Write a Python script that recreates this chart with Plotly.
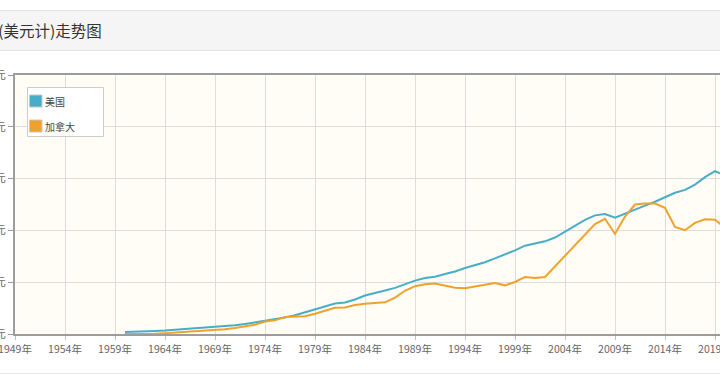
import plotly.graph_objects as go

# ---------------- data ----------------
years = list(range(1960, 2021))
usa = [3007, 3067, 3244, 3375, 3574, 3828, 4146, 4336, 4696, 5032,
       5234, 5609, 6094, 6726, 7226, 7801, 8592, 9453, 10565, 11674,
       12575, 13976, 14434, 15544, 17121, 18237, 19071, 20039, 21417, 22857,
       23889, 24342, 25419, 26387, 27695, 28691, 29968, 31459, 32854, 34515,
       36330, 37134, 38023, 39497, 41713, 44115, 46299, 48050, 48570, 47195,
       48651, 50066, 51784, 53291, 55124, 56763, 57867, 59915, 62805, 65095,
       63528]
canada = [2259, 2240, 2269, 2374, 2555, 2770, 3047, 3217, 3463, 3764,
          4122, 4520, 5089, 5838, 7033, 7511, 8809, 8919, 9124, 10044,
          11171, 12338, 12482, 13425, 13877, 14115, 14463, 16310, 18937, 20716,
          21448, 21768, 20880, 20121, 19935, 20614, 21227, 21902, 21028, 22315,
          24271, 23822, 24255, 28300, 32143, 36383, 40504, 44659, 46711, 40876,
          47562, 52224, 52670, 52635, 50956, 43596, 42316, 45129, 46549, 46374,
          43258]
series_names = ["美国", "加拿大"]
series_colors = ["#48adc7", "#eea22c"]
title_text = "美国和加拿大人均GDP(美元计)走势图"
x_first_tick = 1949
x_tick_step = 5
x_suffix = "年"
y_step = 20000
y_count = 6

# ---------------- layout helpers ----------------
W, H = 720, 380
L, R, T, B = 15, 0, 75, 46
PW, PH = W - L - R, H - T - B


def px(x):
    return (x - L) / PW


def py(y):
    return (H - B - y) / PH


ymin = min(min(usa), min(canada))
yticks = [ymin + y_step * i for i in range(y_count)]
ylabels = [f"{v / 10000:.2f}万美元" for v in yticks]

FONT = "Noto Sans CJK SC, Microsoft YaHei, sans-serif"

fig = go.Figure()
for name, vals, col in zip(series_names, [usa, canada], series_colors):
    fig.add_trace(go.Scatter(x=years, y=vals, name=name, mode="lines",
                             line=dict(color=col, width=2), showlegend=False))

shapes = [
    # title band
    dict(type="rect", xref="paper", yref="paper", x0=px(0), x1=px(W),
         y0=py(50), y1=py(10), fillcolor="#f5f5f5", line=dict(width=0), layer="below"),
    dict(type="line", xref="paper", yref="paper", x0=px(0), x1=px(W),
         y0=py(10.5), y1=py(10.5), line=dict(color="#e3e3e3", width=1)),
    dict(type="line", xref="paper", yref="paper", x0=px(0), x1=px(W),
         y0=py(50.5), y1=py(50.5), line=dict(color="#e3e3e3", width=1)),
    # bottom separator
    dict(type="line", xref="paper", yref="paper", x0=px(0), x1=px(W),
         y0=py(373.5), y1=py(373.5), line=dict(color="#e6e6e6", width=1)),
    # legend box
    dict(type="rect", xref="paper", yref="paper", x0=px(27.5), x1=px(103.5),
         y0=py(136.5), y1=py(87.5), fillcolor="rgba(255,255,255,0.92)",
         line=dict(color="#cccccc", width=1), layer="above"),
]
annotations = [
    dict(text=title_text, xref="paper", yref="paper", x=px(104), y=py(30),
         xanchor="right", yanchor="middle", showarrow=False,
         font=dict(size=15.5, color="#333333", family=FONT)),
]
for i, (name, col) in enumerate(zip(series_names, series_colors)):
    cy = 101 + 25 * i
    shapes.append(dict(type="rect", xref="paper", yref="paper",
                       x0=px(29.5), x1=px(42), y0=py(cy + 6), y1=py(cy - 6),
                       fillcolor=col, line=dict(color="#c8c8c8", width=1), layer="above"))
    annotations.append(dict(text=name, xref="paper", yref="paper", x=px(42.5), y=py(cy),
                            xanchor="left", yanchor="middle", showarrow=False,
                            font=dict(size=10, color="#444444", family=FONT)))

fig.update_layout(
    width=W, height=H,
    margin=dict(l=L, r=R, t=T, b=B, pad=0),
    paper_bgcolor="white", plot_bgcolor="#fffdf6",
    font=dict(family=FONT, color="#666666"),
    showlegend=False,
    shapes=shapes, annotations=annotations,
    xaxis=dict(range=[x_first_tick, 2019.5], tickmode="linear", tick0=x_first_tick,
               dtick=x_tick_step, ticksuffix=x_suffix, showgrid=True, gridcolor="#dddddd",
               gridwidth=1, showline=True, linecolor="#9c9c9c", linewidth=2, mirror=True,
               ticks="outside", ticklen=4, tickcolor="#c0c0c0", zeroline=False,
               ticklabeloverflow="allow",
               tickfont=dict(size=10.5, color="#666666"), automargin=False, fixedrange=True),
    yaxis=dict(range=[yticks[0], yticks[-1]], tickmode="array", tickvals=yticks,
               ticktext=ylabels, showgrid=True, gridcolor="#dddddd", gridwidth=1,
               showline=True, linecolor="#9c9c9c", linewidth=2, ticks="outside",
               ticklen=5, tickcolor="#9c9c9c", zeroline=False,
               ticklabeloverflow="allow",
               tickfont=dict(size=11, color="#666666"), automargin=False, fixedrange=True),
)

fig.write_html("out.html", config={"displayModeBar": False},
               post_script="document.body.style.margin='0';document.body.style.overflow='hidden';")
